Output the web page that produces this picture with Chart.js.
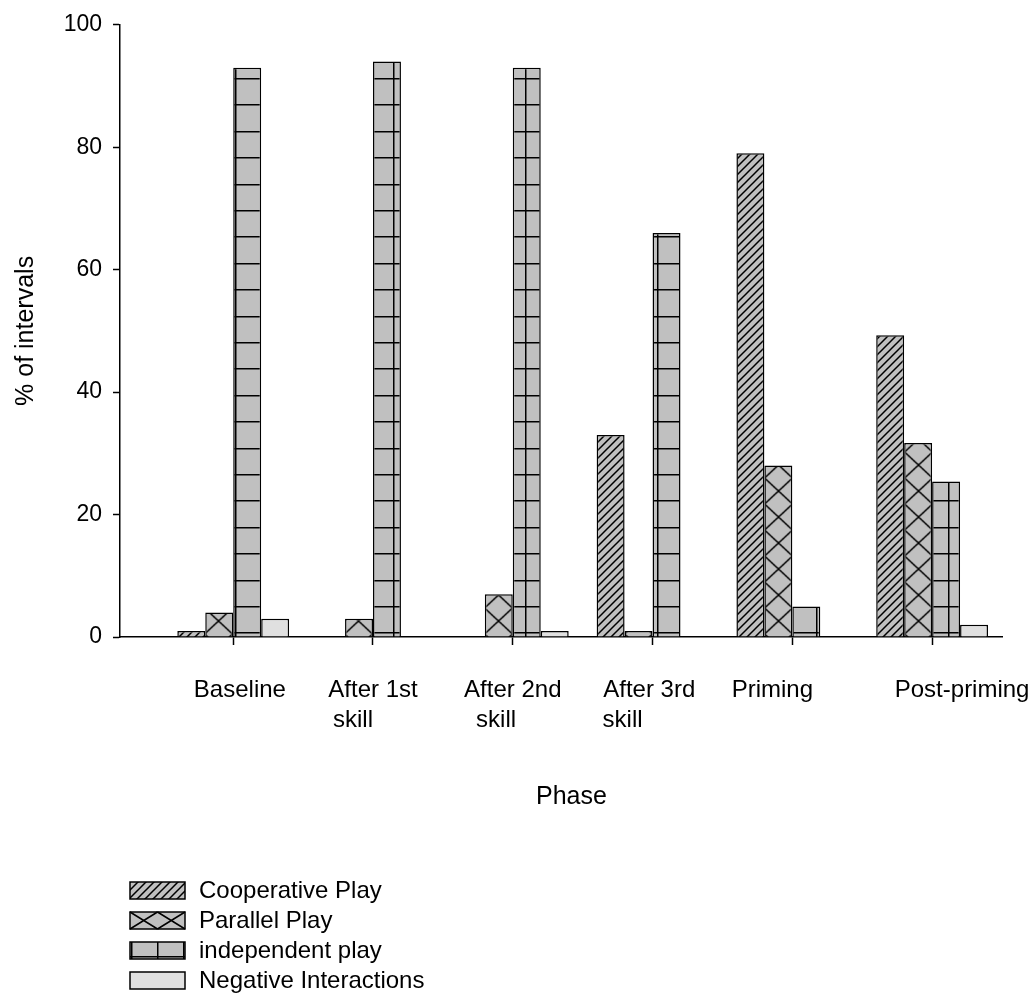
<!DOCTYPE html>
<html>
<head>
<meta charset="utf-8">
<script src="https://cdn.jsdelivr.net/npm/chart.js@4"></script>
<style>
  html, body { margin: 0; padding: 0; background: #fff; }
</style>
</head>
<body>
<canvas id="chart" width="1034" height="997"></canvas>
<script>
// Tick labels (spaces mimic the original's uneven label placement)
const phaseLabels = [
    ["  Baseline"],
    ["After 1st", "skill      "],
    ["After 2nd", "skill     "],
    ["After 3rd ", "skill         "],
    ["Priming      "],
    ["         Post-priming"]
];
const seriesNames = ["Cooperative Play", "Parallel Play", "independent play", "Negative Interactions"];

// % of intervals per phase
const cooperative = [1, 0, 0, 33, 79, 49.3];
const parallel = [4, 3, 7, 1, 28, 31.7];
const independent = [93, 94, 93, 66, 5, 25.4];
const negative = [3, 0, 1, 0, 0, 2];

const yTicks = [0, 20, 40, 60, 80, 100];

const GRAY = "#c0c0c0";
const LIGHT = "#e0e0e0";
const FONT = "'Liberation Sans', Arial, sans-serif";

const canvas = document.getElementById("chart");
const ctx = canvas.getContext("2d");

// Build a repeating pattern from a small tile
const makeTile = (w, h, draw) => {
    const c = document.createElement("canvas");
    c.width = w; c.height = h;
    const g = c.getContext("2d");
    g.fillStyle = GRAY;
    g.fillRect(0, 0, w, h);
    g.strokeStyle = "#000";
    g.lineWidth = 1.5;
    draw(g, w, h);
    return c;
};
const toPattern = (tile, dx, dy) => {
    const p = ctx.createPattern(tile, "repeat");
    p.setTransform(new DOMMatrix([1, 0, 0, 1, dx, dy]));
    return p;
};

const diagTile = makeTile(8, 8, (g) => {
    g.beginPath();
    g.moveTo(0, 8); g.lineTo(8, 0);
    g.moveTo(-2, 2); g.lineTo(2, -2);
    g.moveTo(6, 10); g.lineTo(10, 6);
    g.stroke();
});
const crossTile = makeTile(28, 26, (g, w, h) => {
    g.beginPath();
    g.moveTo(0, 0); g.lineTo(w, h);
    g.moveTo(w, 0); g.lineTo(0, h);
    g.stroke();
});
const gridTile = makeTile(132, 132, (g) => {
    g.beginPath();
    for (let k = 0; k < 5; k++) {
        const p = Math.round(k * 26.4) + 0.75;
        g.moveTo(p, 0); g.lineTo(p, 132);
        g.moveTo(0, p); g.lineTo(132, p);
    }
    g.stroke();
});

const fills = [
    toPattern(diagTile, 0, 0),
    toPattern(crossTile, 8.5, 10),
    toPattern(gridTile, 103, 78),
    LIGHT
];

// Legend drawn as a vertical list under the axis title
const legendBoxes = {
    id: "legendBoxes",
    afterDraw(chart) {
        const c = chart.ctx;
        const x = 130, w = 55, h = 17;
        c.save();
        seriesNames.forEach((name, i) => {
            const y = 882 + i * 30;
            if (i === 0) c.fillStyle = toPattern(diagTile, x, y);
            else if (i === 2) c.fillStyle = toPattern(gridTile, x + 27, y + 40);
            else c.fillStyle = i === 1 ? GRAY : LIGHT;
            c.fillRect(x, y, w, h);
            c.strokeStyle = "#000";
            c.lineWidth = 1.5;
            if (i === 1) {
                c.beginPath();
                c.moveTo(x, y); c.lineTo(x + w / 2, y + h);
                c.moveTo(x + w / 2, y); c.lineTo(x, y + h);
                c.moveTo(x + w / 2, y); c.lineTo(x + w, y + h);
                c.moveTo(x + w, y); c.lineTo(x + w / 2, y + h);
                c.stroke();
            }
            c.strokeRect(x, y, w, h);
            c.fillStyle = "#000";
            c.font = "24px " + FONT;
            c.textBaseline = "middle";
            c.fillText(name, x + 69, y + h / 2 + 1);
        });
        c.restore();
    }
};

const toPoints = (arr) => arr.map((v, i) => ({ x: i + 1, y: v }));

new Chart(canvas, {
    type: "bar",
    data: {
        datasets: [cooperative, parallel, independent, negative].map((arr, i) => ({
            label: seriesNames[i],
            data: toPoints(arr),
            backgroundColor: fills[i],
            borderColor: "#000",
            borderWidth: 1.5,
            categoryPercentage: 0.8,
            barPercentage: 1.0
        }))
    },
    options: {
        responsive: false,
        animation: false,
        layout: { padding: { top: 22, right: 32, bottom: 0, left: 0 } },
        plugins: {
            legend: { display: false },
            tooltip: { enabled: false }
        },
        scales: {
            x: {
                type: "linear",
                bounds: "data",
                offset: false,
                min: 0.19,
                max: 6.5,
                afterBuildTicks: (s) => { s.ticks = phaseLabels.map((_, i) => ({ value: i + 1 })); },
                afterFit: (s) => {
                    s.height = 360;
                    s.paddingLeft = 0;
                    s.paddingRight = 0;
                },
                ticks: {
                    autoSkip: false,
                    maxRotation: 0,
                    padding: 30,
                    color: "#000",
                    font: { family: FONT, size: 24, lineHeight: 1.25 },
                    callback: (v, i) => phaseLabels[i]
                },
                grid: { offset: false, drawOnChartArea: false, tickLength: 8, tickWidth: 1.5, color: "#000" },
                border: { color: "#000", width: 1.5 },
                title: {
                    display: true,
                    text: "   Phase",
                    color: "#000",
                    font: { family: FONT, size: 25 },
                    padding: { top: 0, bottom: 185 }
                }
            },
            y: {
                min: 0,
                max: 100,
                afterBuildTicks: (s) => { s.ticks = yTicks.map((v) => ({ value: v })); },
                afterFit: (s) => { s.width = 120; },
                ticks: {
                    padding: 11,
                    color: "#000",
                    font: { family: FONT, size: 23 }
                },
                grid: { drawOnChartArea: false, tickLength: 7, tickWidth: 1.5, color: "#000" },
                border: { color: "#000", width: 1.5 },
                title: {
                    display: true,
                    text: "% of intervals",
                    color: "#000",
                    font: { family: FONT, size: 25 },
                    padding: { top: 11, bottom: 0 }
                }
            }
        }
    },
    plugins: [legendBoxes]
});
</script>
</body>
</html>
